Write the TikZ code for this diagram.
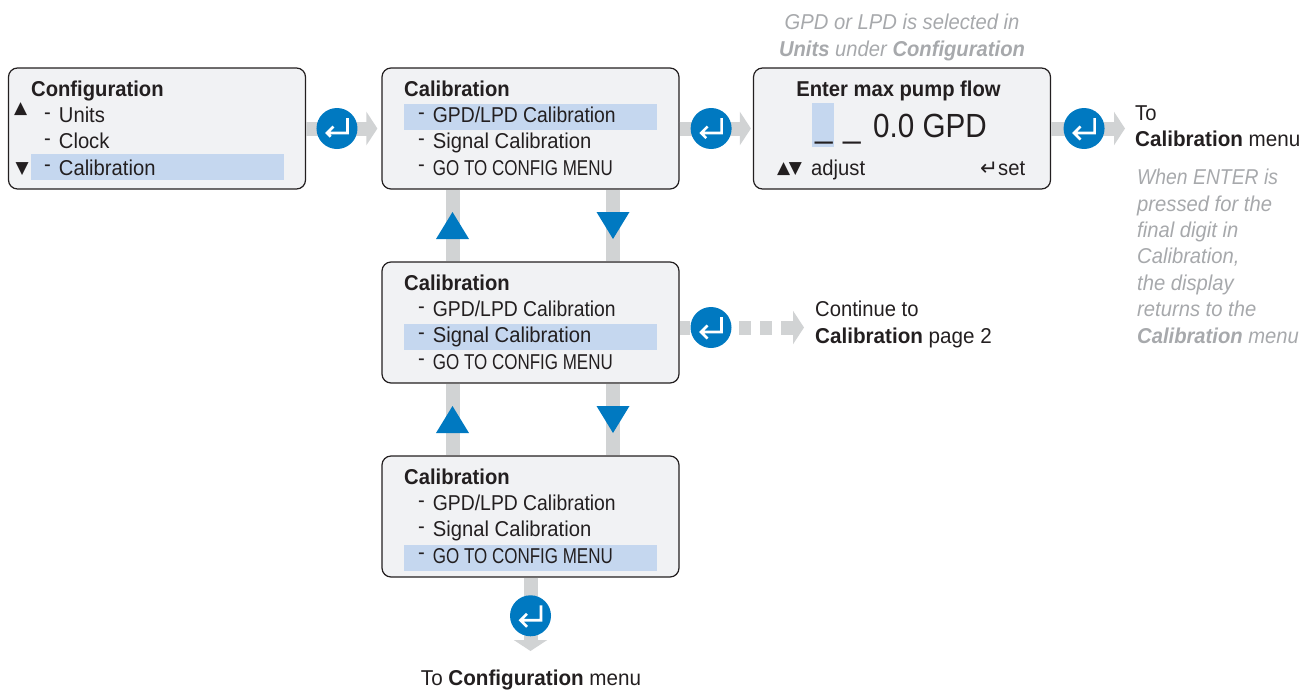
\documentclass[tikz,border=0pt]{standalone}
\usepackage{fontspec}
\setmainfont[FakeStretch=0.94]{Liberation Sans}
\newfontfamily\symfont{DejaVu Sans}
\usetikzlibrary{arrows.meta}

\definecolor{ink}{HTML}{231F20}
\definecolor{panel}{HTML}{F1F2F4}
\definecolor{selrow}{HTML}{C5D7EF}
\definecolor{flowgray}{HTML}{D1D3D4}
\definecolor{enterblue}{HTML}{0079C1}
\definecolor{notegray}{HTML}{A7A9AC}

\newcommand{\itemdash}{\raisebox{3.5pt}{-}\hspace{8pt}}
\newcommand{\tight}[2]{{\addfontfeature{FakeStretch=#1}#2}}

\tikzset{
    menubox/.style={shape=rectangle, rounded corners=9pt, draw=ink, line width=1.2pt, fill=panel, minimum width=297pt, minimum height=121pt, inner sep=0pt},
    menutext/.style={anchor=base west, inner sep=0pt, text=ink, font=\fontsize{21.5pt}{26pt}\selectfont},
    marktext/.style={menutext, font=\fontsize{17pt}{17pt}\symfont},
    notetext/.style={inner sep=0pt, text=notegray, align=left, font=\fontsize{21.5pt}{26.4pt}\selectfont\itshape},
    flowbar/.style={color=flowgray, line width=14pt},
    flow/.style={flowbar, -{Triangle[length=11pt,width=33pt]}},
    enterbtn/.style={shape=circle, fill=enterblue, minimum size=41pt, inner sep=0pt, path picture={
        \draw[white, line width=2.6pt, arrows=-, solid] (path picture bounding box.center) ++(10.5,-10.5) -- ++(0,15) -- ++(-20.5,0) ++(6.5,-6.5) -- ++(-6.5,6.5) -- ++(6.5,6.5);
    }},
}

\begin{document}
\begin{tikzpicture}[x=1pt, y=-1pt]
    \useasboundingbox (0,0) rectangle (1312,689);

    % first menu
    \node[menubox] (A) at (157,128.5) {};
    \fill[selrow] (31,154) rectangle (284,180);
    \node[menutext] (A0) at (31,96) {\textbf{Configuration}};
    \node[menutext] (A1) at (44,122.7) {\itemdash Units};
    \node[menutext] (A2) at (44,148.7) {\itemdash Clock};
    \node[menutext] (A3) at (44,175) {\itemdash Calibration};
    \node[marktext] (AU) at (14,113.7) {▲};
    \node[marktext] (AD) at (15.5,173.7) {▼};

    % the three calibration menus
    \foreach \name/\ytop/\ysel in {B/68/36, D/262/62, F/456/89} {
        \node[menubox] (\name) at (530.5,\ytop+60.5) {};
        \fill[selrow] (404,\ytop+\ysel) rectangle ++(253,26);
        \node[menutext] (\name0) at (404,\ytop+28) {\textbf{Calibration}};
        \node[menutext] (\name1) at (418,\ytop+54.7) {\itemdash \tight{0.9}{GPD/LPD Calibration}};
        \node[menutext] (\name2) at (418,\ytop+80.7) {\itemdash Signal Calibration};
        \node[menutext] (\name3) at (418,\ytop+107) {\itemdash \tight{0.79}{GO TO CONFIG MENU}};
    }

    % pump flow screen
    \node[menubox] (C) at (902,128.5) {};
    \fill[selrow] (812,103) rectangle (834,146.7);
    \node[menutext, anchor=base] (C0) at (898.5,96.5) {\textbf{Enter max pump flow}};
    \node[menutext, font=\fontsize{33.5pt}{36pt}\selectfont] (C1) at (815,137) {\_\hspace{10.5pt}\_\hspace{12.5pt}\tight{0.885}{0.0 GPD}};
    \node[marktext] (C2) at (777,173.7) {▲\hspace{-1.5pt}▼};
    \node[menutext] (C3) at (811,175) {adjust};
    \node[menutext] (C4) at (980,175.5) {{\symfont ↵}set};

    % free ends
    \coordinate (G) at (1125,128.5);
    \coordinate (H) at (804,327.5);
    \coordinate (J) at (530.5,651);
    \coordinate (U) at (452.5,0);
    \coordinate (V) at (613,0);

    % connectors
    \path [flow, shorten >=4pt] (A) edge node[enterbtn, pos=0.41] (E1) {} (B);
    \path [flow, shorten >=2pt] (B) edge node[enterbtn, pos=0.43] (E2) {} (C);
    \path [flow] (C) edge node[enterbtn, pos=0.446] (E3) {} (G);
    \path [flow] (F) edge node[enterbtn, pos=0.52] (E5) {} (J);

    \node[enterbtn] (E4) at (711,327.5) {};
    \draw[flowbar] (E4) -- (E4 -| D.east);
    \draw[flow, dash pattern=on 12pt off 9pt, shorten <=7.5pt] (E4) -- (H);

    \draw[flowbar] (U |- B.south) -- (U |- D.north);
    \draw[flowbar] (V |- B.south) -- (V |- D.north);
    \draw[flowbar] (U |- D.south) -- (U |- F.north);
    \draw[flowbar] (V |- D.south) -- (V |- F.north);
    \foreach \yoff in {0,194} {
        \fill[enterblue] (436,239+\yoff) -- (452.5,212+\yoff) -- (469,239+\yoff) -- cycle;
        \fill[enterblue] (596.5,212+\yoff) -- (613,239+\yoff) -- (629.5,212+\yoff) -- cycle;
    }

    % labels
    \node[menutext] (L1) at (1135,120) {To};
    \node[menutext] (L2) at (1135,146) {\tight{0.96}{\textbf{Calibration} menu}};
    \node[menutext] (L3) at (815,316) {Continue to};
    \node[menutext] (L4) at (815,343) {\tight{0.96}{\textbf{Calibration} page 2}};
    \node[menutext, anchor=base] (L5) at (531,685) {\tight{0.96}{To \textbf{Configuration} menu}};

    \node[notetext, anchor=north west] (N1) at (1137,169) {\tight{0.9}{When ENTER is}\\pressed for the\\final digit in\\Calibration,\\the display\\returns to the\\\textbf{Calibration} menu};
    \node[notetext, anchor=north, align=center] (N2) at (902,14) {GPD or LPD is selected in\\\textbf{Units} under \textbf{Configuration}};
\end{tikzpicture}
\end{document}
